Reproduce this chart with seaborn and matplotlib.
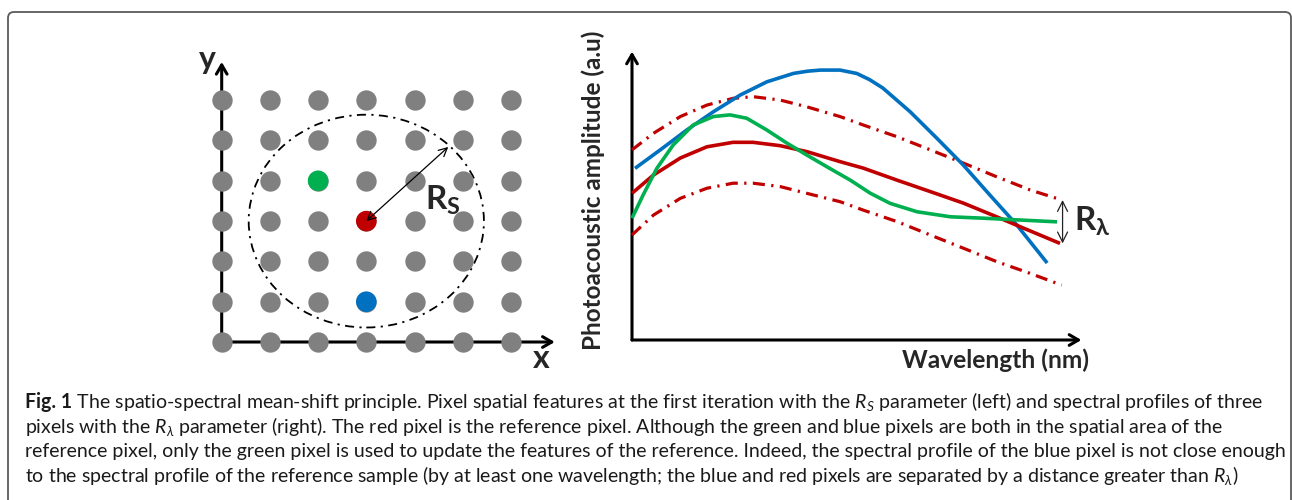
import numpy as np
import pandas as pd
import matplotlib
matplotlib.use("Agg")
import matplotlib.pyplot as plt
import seaborn as sns
from matplotlib.patches import Ellipse, FancyBboxPatch

# ---------------- data ----------------
grid_cols = [0, 1, 2, 3, 4, 5, 6]
grid_rows = [0, 1, 2, 3, 4, 5, 6]
pixel_names = ["reference", "green", "blue"]
pixel_cols = [3, 2, 3]
pixel_rows = [3, 4, 1]
rs_half_width = 2.44
rs_half_height = 2.64
rs_arrow_end = [4.70, 4.84]

wl_red = [0.0, 0.50, 1.13, 1.75, 2.36, 2.83, 3.46, 4.08, 4.86, 5.40, 6.19, 6.97, 7.74, 8.52, 9.14, 10.0]
amp_red = [5.24, 5.89, 6.50, 6.90, 7.06, 7.06, 6.94, 6.73, 6.37, 6.14, 5.71, 5.30, 4.89, 4.40, 4.00, 3.45]

wl_green = [0.0, 0.26, 0.58, 0.96, 1.43, 1.90, 2.29, 2.68, 3.15, 3.62, 4.08, 4.55, 5.10, 5.57, 6.03, 6.66, 7.44, 8.21, 9.00, 9.93]
amp_green = [4.35, 5.18, 6.13, 6.96, 7.68, 7.98, 8.04, 7.92, 7.50, 7.03, 6.61, 6.19, 5.71, 5.24, 4.88, 4.58, 4.40, 4.35, 4.29, 4.22]

wl_blue = [0.07, 0.66, 1.28, 1.90, 2.53, 3.15, 3.77, 4.10, 4.40, 4.86, 5.25, 5.55, 5.86, 6.50, 7.12, 7.74, 8.36, 8.99, 9.70]
amp_blue = [6.13, 6.79, 7.50, 8.15, 8.75, 9.22, 9.52, 9.60, 9.64, 9.64, 9.52, 9.30, 9.00, 8.15, 7.21, 6.25, 5.18, 4.11, 2.75]

wl_band = [0.0, 0.50, 1.13, 1.75, 2.36, 2.83, 3.46, 4.08, 4.86, 5.40, 6.19, 6.97, 7.74, 8.52, 9.30, 10.04]
amp_upper = [6.79, 7.38, 7.98, 8.39, 8.63, 8.69, 8.57, 8.33, 7.98, 7.68, 7.26, 6.79, 6.32, 5.83, 5.36, 5.00]
amp_lower = [3.75, 4.46, 5.06, 5.42, 5.60, 5.60, 5.48, 5.24, 4.94, 4.64, 4.23, 3.75, 3.28, 2.80, 2.38, 1.96]

caption_lines = [
    [("Fig. 1", "bold"), (" The spatio-spectral mean-shift principle. Pixel spatial features at the first iteration with the $R_S$ parameter (left) and spectral profiles of three", "normal")],
    [("pixels with the $R_\\lambda$ parameter (right). The red pixel is the reference pixel. Although the green and blue pixels are both in the spatial area of the", "normal")],
    [("reference pixel, only the green pixel is used to update the features of the reference. Indeed, the spectral profile of the blue pixel is not close enough", "normal")],
    [("to the spectral profile of the reference sample (by at least one wavelength; the blue and red pixels are separated by a distance greater than $R_\\lambda$)", "normal")],
]

# ---------------- style ----------------
sns.set_theme(style="white")
plt.rcParams['font.family'] = ['Lato', 'DejaVu Sans']
plt.rcParams['mathtext.fontset'] = 'custom'
plt.rcParams['mathtext.rm'] = 'Lato'
plt.rcParams['mathtext.it'] = 'Lato:italic'
plt.rcParams['mathtext.bf'] = 'Lato:bold'

BLUE, RED, GREEN, GRAY = "#0070C0", "#C00000", "#00B050", "#808080"

W, H = 1292, 500
fig = plt.figure(figsize=(W / 100, H / 100), dpi=100)
fig.patch.set_facecolor("white")
renderer = fig.canvas.get_renderer()


def px_axes(left, top, right, bottom, z=1):
    a = fig.add_axes([left / W, 1 - bottom / H, (right - left) / W, (bottom - top) / H], zorder=z)
    a.set_axis_off()
    return a


def fit(t, w=None, h=None):
    bb = t.get_window_extent(renderer)
    s = (w / bb.width) if w else (h / bb.height)
    t.set_fontsize(t.get_fontsize() * s)


# overlay (pixel coordinates)
ov = px_axes(0, 0, W, H, z=0)
ov.set_xlim(0, W)
ov.set_ylim(H, 0)
ov.add_patch(FancyBboxPatch((8, 12), 1283, 530, boxstyle="round,pad=0,rounding_size=6",
                            fill=False, ec="#5a5a5a", lw=1.3))

# ---------------- left panel ----------------
cx, cw = 221.7, 48.2
ry, rh = 342.0, 40.3
axL = px_axes(cx - cw, ry - 7.5 * rh, cx + 7.5 * cw, ry + rh, z=2)
axL.set_xlim(-1, 7.5)
axL.set_ylim(-1, 7.5)

arrow_kw = dict(arrowstyle="->,head_length=0.55,head_width=0.32", lw=2.2, color="black",
                shrinkA=0, shrinkB=0)
axL.annotate("", xy=(0, 6.95), xytext=(0, 0), arrowprops=arrow_kw, zorder=1)
axL.annotate("", xy=(6.91, 0), xytext=(0, 0), arrowprops=arrow_kw, zorder=1)
axL.text(-0.30, 7.02, "y", fontsize=23, fontweight="bold", ha="center", va="center")
axL.text(6.62, -0.42, "x", fontsize=23, fontweight="bold", ha="center", va="center")

gc, gr = np.meshgrid(grid_cols, grid_rows)
df_grid = pd.DataFrame({"col": gc.ravel(), "row": gr.ravel()})
sns.scatterplot(data=df_grid, x="col", y="row", color=GRAY, s=215, linewidth=0, ax=axL, zorder=3)
df_pix = pd.DataFrame({"name": pixel_names, "col": pixel_cols, "row": pixel_rows})
sns.scatterplot(data=df_pix, x="col", y="row", hue="name",
                palette={"reference": RED, "green": GREEN, "blue": BLUE},
                s=220, linewidth=0, legend=False, ax=axL, zorder=4)
axL.set_xlim(-1, 7.5)
axL.set_ylim(-1, 7.5)
axL.set_axis_off()

ref = (pixel_cols[0], pixel_rows[0])
axL.add_patch(Ellipse(ref, 2 * rs_half_width, 2 * rs_half_height, fill=False, ec="black",
                      lw=1.3, ls=(0, (5, 3, 1.2, 3)), zorder=2))
axL.annotate("", xy=ref, xytext=tuple(rs_arrow_end),
             arrowprops=dict(arrowstyle="<->,head_length=0.5,head_width=0.25", lw=0.9,
                             color="black", shrinkA=0, shrinkB=0), zorder=5)
axL.text(4.59, 3.52, r"$\mathbf{R_S}$", fontsize=24, ha="center", va="center", zorder=6)

# ---------------- right panel ----------------
ox, xs = 632.0, 42.8
oy, ys = 340.0, 28.0
axR = px_axes(ox - 0.5 * xs, oy - 11 * ys, ox + 11 * xs, oy + 0.5 * ys, z=2)

line_kw = dict(sort=False, estimator=None, solid_joinstyle="round", solid_capstyle="butt")
dash_kw = dict(sort=False, estimator=None, dash_joinstyle="round", dash_capstyle="butt",
               linestyle=(0, (3.8, 2.0, 0.7, 2.0)))
sns.lineplot(x=wl_band, y=amp_upper, ax=axR, color=RED, lw=2.3, **dash_kw)
sns.lineplot(x=wl_band, y=amp_lower, ax=axR, color=RED, lw=2.3, **dash_kw)
sns.lineplot(x=wl_blue, y=amp_blue, ax=axR, color=BLUE, lw=2.6, **line_kw)
sns.lineplot(x=wl_red, y=amp_red, ax=axR, color=RED, lw=2.6, **line_kw)
sns.lineplot(x=wl_green, y=amp_green, ax=axR, color=GREEN, lw=2.6, **line_kw)
axR.set_xlim(-0.5, 11)
axR.set_ylim(-0.5, 11)
axR.set_axis_off()

axR.annotate("", xy=(0, 10.3), xytext=(0, 0), arrowprops=arrow_kw, zorder=1)
axR.annotate("", xy=(10.5, 0), xytext=(0, 0), arrowprops=arrow_kw, zorder=1)

axR.annotate("", xy=(wl_band[-1] + 0.02, amp_upper[-1]), xytext=(wl_band[-1] + 0.02, amp_red[-1]),
             arrowprops=dict(arrowstyle="<->,head_length=0.6,head_width=0.3", lw=0.9,
                             color="#222222", shrinkA=0, shrinkB=0))
axR.text(10.33, 4.25, r"$\mathbf{R_\lambda}$", fontsize=24, ha="left", va="center")

ty = axR.text(-0.91, 5.36, "Photoacoustic amplitude (a.u)", fontsize=18, fontweight="bold",
              rotation=90, ha="center", va="center", clip_on=False)
fit(ty, h=320)
tx = axR.text(8.50, -0.71, "Wavelength (nm)", fontsize=18, fontweight="bold",
              ha="center", va="center", clip_on=False)
fit(tx, w=187)

# ---------------- caption ----------------
base_fs = 13.0
baselines = [408, 433, 457.5, 482]


def draw_line(parts, y, fs):
    cur = 25.0
    out = []
    for s, wt in parts:
        t = ov.text(cur, y, s, fontsize=fs, fontweight=wt, ha="left", va="baseline", color="#1a1a1a")
        bb = t.get_window_extent(renderer)
        cur += bb.width
        out.append(t)
    return cur - 25.0, out


width0, tmp = draw_line(caption_lines[0], baselines[0], base_fs)
for t in tmp:
    t.remove()
fs = base_fs * 1237.0 / width0
for parts, y in zip(caption_lines, baselines):
    draw_line(parts, y, fs)

fig.savefig("out.png", dpi=100, facecolor="white")
